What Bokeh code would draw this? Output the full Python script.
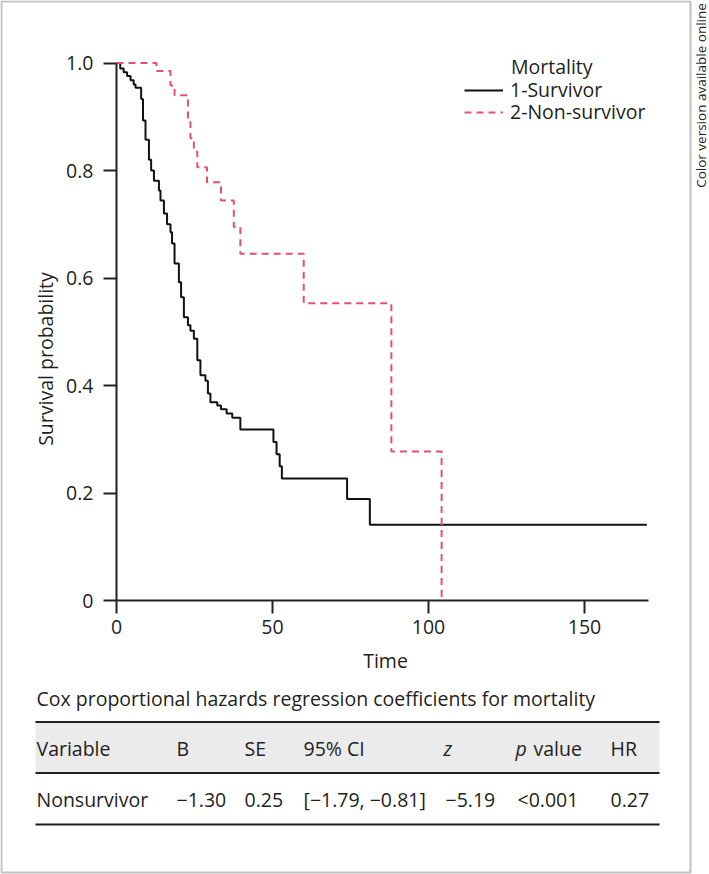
import math
from bokeh.plotting import figure
from bokeh.models import (Range1d, FixedTicker, Label, BoxAnnotation, Legend,
                          LegendItem, PrintfTickFormatter)
from bokeh.embed import file_html
from bokeh.resources import INLINE

# ---------------- data ----------------
surv_time = [0, 1.2, 2.3, 3.4, 4.5, 5.5, 6.1, 7.9, 8.5, 9.3, 10.4, 11.1, 12.0, 13.6,
             14.1, 15.2, 16.2, 17.3, 17.8, 18.6, 20.0, 20.7, 21.6, 22.9, 23.7, 24.8,
             25.9, 26.9, 28.5, 29.3, 30.1, 32.3, 33.5, 35.3, 37.1, 39.7, 50.3, 51.3,
             52.3, 53.0, 73.9, 81.2, 170.0]
surv_prob = [1.0, 0.99, 0.983, 0.976, 0.968, 0.96, 0.954, 0.933, 0.893, 0.857, 0.82,
             0.80, 0.781, 0.763, 0.744, 0.72, 0.70, 0.685, 0.664, 0.627, 0.592, 0.564,
             0.527, 0.512, 0.502, 0.487, 0.447, 0.419, 0.409, 0.385, 0.369, 0.363,
             0.356, 0.348, 0.340, 0.318, 0.295, 0.272, 0.25, 0.227, 0.189, 0.141, 0.141]

nonsurv_time = [0, 12.8, 17.3, 18.6, 22.9, 23.7, 24.8, 25.9, 29.0, 33.5, 37.6, 39.7,
                60.0, 88.1, 104.2]
nonsurv_prob = [1.0, 0.985, 0.958, 0.94, 0.89, 0.86, 0.835, 0.806, 0.778, 0.744, 0.695,
                0.645, 0.553, 0.277, 0.0]

x_ticks = [0, 50, 100, 150]
y_ticks = [0, 0.2, 0.4, 0.6, 0.8, 1.0]
x_label = "Time"
y_label = "Survival probability"
legend_title = "Mortality"
series_names = ["1-Survivor", "2-Non-survivor"]
side_note = "Color version available online"

table_title = "Cox proportional hazards regression coefficients for mortality"
table_header = ["Variable", "B", "SE", "95% CI", "z", "p", "value", "HR"]
table_row = ["Nonsurvivor", "\u22121.30", "0.25", "[\u22121.79, \u22120.81]", "\u22125.19",
             "<0.001", "0.27"]

# ---------------- layout / style ----------------
FONT = "Open Sans"
FS = "19.5px"
TXT = "#231f20"
RED = "#e5506a"
W, H = 709, 874
X0, Y0 = 116, 600          # page pixel of the origin (t=0, S=0)
XPX, YPX = 3.12, 537.5     # pixels per unit
T_END = 170.5


def sx(px):
    return px


def sy(py):
    return H - py


p = figure(width=W, height=H, output_backend="svg", toolbar_location=None,
           x_range=Range1d(-X0 / XPX, (W - X0) / XPX),
           y_range=Range1d(-(H - Y0) / YPX, Y0 / YPX),
           min_border=0, min_border_left=0, min_border_right=0,
           min_border_top=0, min_border_bottom=0)
p.outline_line_color = None
p.xgrid.visible = False
p.ygrid.visible = False
p.background_fill_color = "white"
p.border_fill_color = "white"

for ax in (p.xaxis[0], p.yaxis[0]):
    ax.fixed_location = 0
    ax.axis_line_width = 2
    ax.axis_line_color = "#222222"
    ax.major_tick_line_width = 2
    ax.major_tick_line_color = "#222222"
    ax.major_tick_out = 13
    ax.major_tick_in = 0
    ax.minor_tick_out = 0
    ax.minor_tick_in = 0
    ax.major_label_text_font = FONT
    ax.major_label_text_font_size = FS
    ax.major_label_text_color = TXT

p.xaxis.ticker = FixedTicker(ticks=x_ticks)
p.xaxis.bounds = (0, T_END)
p.xaxis.major_label_standoff = 6

p.yaxis.ticker = FixedTicker(ticks=y_ticks)
p.yaxis.bounds = (0, 1.0)
p.yaxis.formatter = PrintfTickFormatter(format="%.1f")
p.yaxis.major_label_overrides = {0: "0"}
p.yaxis.major_label_standoff = 10

r1 = p.step(surv_time, surv_prob, mode="after", line_color="#111111", line_width=2)
r2 = p.step(nonsurv_time, nonsurv_prob, mode="after", line_color=RED, line_width=2,
            line_dash="7 5")

for name, rend, row_y in ((series_names[0], r1, 90), (series_names[1], r2, 112)):
    p.add_layout(Legend(items=[LegendItem(label=name, renderers=[rend])],
                        location=(sx(464), sy(row_y + 13)), padding=0, margin=0,
                        border_line_color=None, background_fill_alpha=0,
                        glyph_width=39, glyph_height=20, label_height=20,
                        label_standoff=7, spacing=0, label_text_font=FONT,
                        label_text_font_size=FS, label_text_color=TXT))


def label(text, px, py, size=FS, align="left", angle=0.0, style="normal"):
    p.add_layout(Label(x=sx(px), y=sy(py), x_units="screen", y_units="screen",
                       text=text, text_font=FONT, text_font_size=size,
                       text_color=TXT, text_align=align, text_baseline="middle",
                       angle=angle, text_font_style=style))


label(legend_title, 510.5, 66)
label(y_label, 45, 358.5, align="center", angle=math.pi / 2)
label(x_label, 385, 660, align="center")
label(side_note, 700, 95, size="13.5px", align="center", angle=math.pi / 2)


def box(left, right, top, bottom, color):
    p.add_layout(BoxAnnotation(left=sx(left), right=sx(right), top=sy(top),
                               bottom=sy(bottom), left_units="screen",
                               right_units="screen", top_units="screen",
                               bottom_units="screen", fill_color=color,
                               fill_alpha=1, line_color=None, level="underlay"))


box(35, 659, 722, 772, "#ebebeb")
box(35, 659, 720.5, 722.5, TXT)
box(35, 659, 771.5, 773.5, TXT)
box(35, 659, 823, 825, TXT)

label(table_title, 36, 698)
header_x = [36, 176, 244, 303, 443, 515, 533, 610]
header_style = ["normal", "normal", "normal", "normal", "italic", "italic", "normal",
                "normal"]
for t, x, st in zip(table_header, header_x, header_style):
    label(t, x, 748, style=st)
row_x = [36, 176, 244, 303, 445, 517, 610]
for t, x in zip(table_row, row_x):
    label(t, x, 799)

# outer frame
p.add_layout(BoxAnnotation(left=sx(1), right=sx(690), top=sy(1), bottom=sy(872),
                           left_units="screen", right_units="screen",
                           top_units="screen", bottom_units="screen",
                           fill_alpha=0, line_color="#333333", line_width=2))

open("out.html", "w").write(file_html(p, INLINE))
